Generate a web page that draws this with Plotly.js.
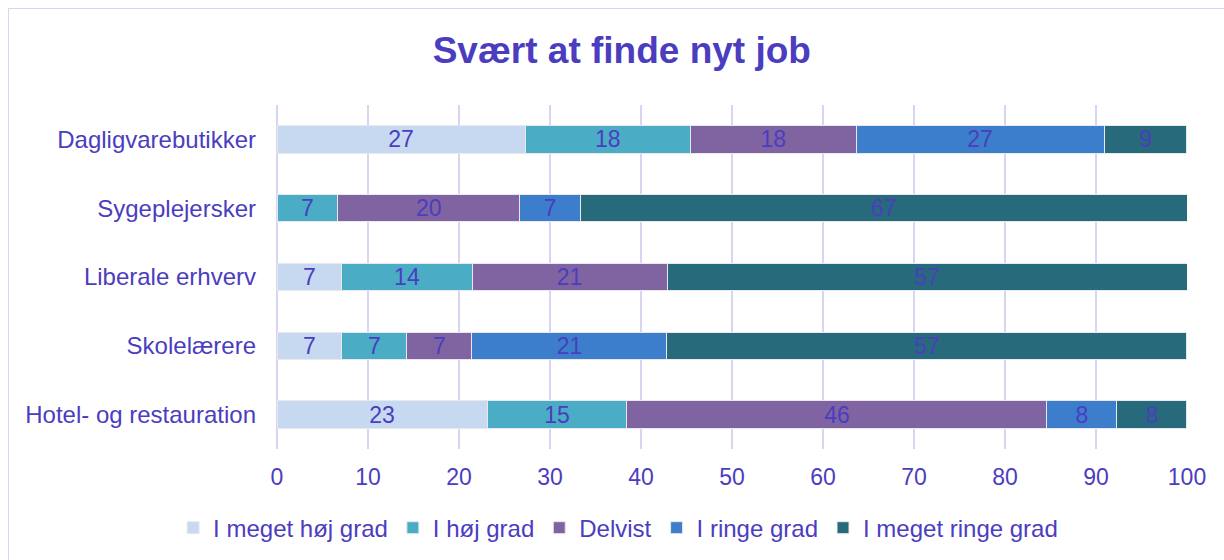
<!DOCTYPE html>
<html>
<head>
<meta charset="utf-8">
<script src="https://cdn.plot.ly/plotly-3.0.1.min.js"></script>
<style>
  html, body { margin: 0; padding: 0; background: #fff; }
  #chart { width: 1224px; height: 560px; position: relative; }
  #frame { position: absolute; left: 8px; top: 8px; width: 1230px; height: 560px; border: 1px solid #D9D4F2; pointer-events: none; }
</style>
</head>
<body>
<div id="chart"></div>
<div id="frame"></div>
<script>
const categories = ["Dagligvarebutikker", "Sygeplejersker", "Liberale erhverv", "Skolelærere", "Hotel- og restauration"];
const seriesNames = ["I meget høj grad", "I høj grad", "Delvist", "I ringe grad", "I meget ringe grad"];
const meget_hoej = [27.27, null, 7.14, 7.14, 23.08];
const hoej = [18.18, 6.67, 14.29, 7.14, 15.38];
const delvist = [18.18, 20.0, 21.43, 7.14, 46.15];
const ringe = [27.27, 6.67, null, 21.43, 7.69];
const meget_ringe = [9.09, 66.67, 57.14, 57.14, 7.69];
const colors = ["#C7D9F0", "#4BACC6", "#8064A2", "#3C7DCC", "#276A7C"];
const textColor = "#4B3DBF";
const font = "Liberation Sans, Arial, sans-serif";

const allSeries = [meget_hoej, hoej, delvist, ringe, meget_ringe];
const traces = allSeries.map((vals, i) => ({
  type: "bar",
  orientation: "h",
  name: seriesNames[i],
  y: categories,
  x: vals,
  marker: { color: colors[i], line: { color: "#E8E8EE", width: 1 } },
  texttemplate: "%{x:.0f}",
  textposition: "inside",
  insidetextanchor: "middle",
  textangle: 0,
  constraintext: "none",
  insidetextfont: { color: textColor, size: 23, family: font },
  hoverinfo: "skip"
}));

const layout = {
  width: 1224,
  height: 560,
  barmode: "stack",
  bargap: 0.6,
  paper_bgcolor: "#ffffff",
  plot_bgcolor: "#ffffff",
  font: { family: font, color: textColor, size: 24 },
  margin: { l: 277, r: 37, t: 105, b: 111 },
  title: {
    text: "<b>Svært at finde nyt job</b>",
    font: { size: 37, color: textColor, family: font },
    x: 0.508, xref: "container", xanchor: "center",
    y: 0.91, yref: "container", yanchor: "middle"
  },
  xaxis: {
    range: [0, 100],
    dtick: 10,
    showgrid: true,
    gridcolor: "#D9D4F2",
    gridwidth: 2,
    zeroline: true,
    zerolinecolor: "#D9D4F2",
    zerolinewidth: 2,
    showline: false,
    ticks: "",
    ticklabelstandoff: 12,
    tickfont: { size: 23, color: textColor, family: font },
    fixedrange: true
  },
  yaxis: {
    type: "category",
    autorange: "reversed",
    showgrid: false,
    zeroline: false,
    showline: false,
    ticks: "",
    ticklabelstandoff: 20,
    tickfont: { size: 24, color: textColor, family: font },
    fixedrange: true
  },
  legend: {
    orientation: "h",
    xref: "container", yref: "container",
    x: 0.505, xanchor: "center",
    y: 0.057, yanchor: "middle",
    font: { size: 24, color: textColor, family: font },
    itemwidth: 30,
    traceorder: "normal"
  },
  showlegend: true
};

Plotly.newPlot("chart", traces, layout, { displayModeBar: false, staticPlot: true });
</script>
</body>
</html>
